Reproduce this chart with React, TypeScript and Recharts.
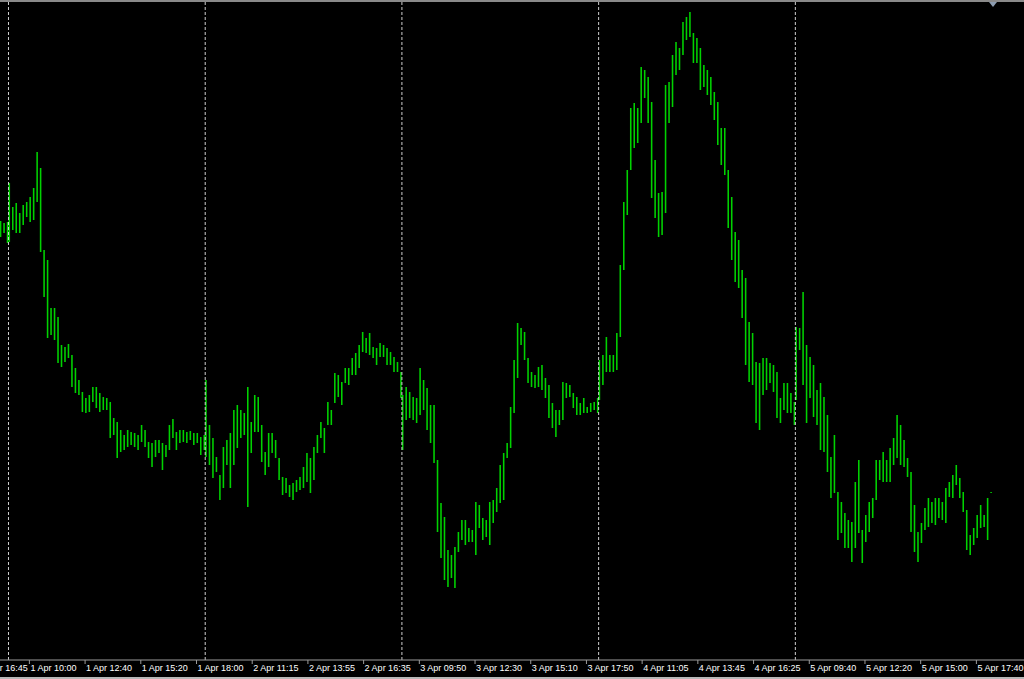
import React from 'react';
import { BarChart, Bar, XAxis, YAxis, ReferenceLine } from 'recharts';

// 5 minute bars per session, 09:00 .. 18:20
const BARS_PER_DAY = 113;

// 10 minute high / low (price points)
const mar31High = [439, 437, 438];
const mar31Low = [423, 427, 417];

const apr1High = [477, 453, 457, 447, 455, 458, 463, 472, 508, 492, 410, 400, 352, 352, 343, 315, 313, 316, 305, 292, 280, 268, 262, 265, 273, 273, 267, 263, 262, 258, 242, 238, 230, 225, 230, 228, 227, 225, 235, 230, 218, 217, 220, 220, 217, 215, 235, 241, 228, 230, 230, 228, 229, 227, 227, 223, 225];
const apr1Low = [418, 430, 427, 427, 435, 443, 438, 440, 458, 408, 363, 322, 325, 320, 297, 293, 298, 302, 273, 267, 265, 248, 247, 248, 258, 252, 248, 250, 250, 222, 225, 202, 208, 210, 213, 215, 213, 210, 218, 213, 202, 193, 203, 207, 190, 203, 210, 222, 210, 217, 218, 217, 220, 215, 217, 205, 210];

const apr2High = [280, 235, 222, 203, 185, 213, 220, 227, 250, 255, 250, 247, 273, 238, 265, 263, 235, 208, 227, 227, 220, 202, 183, 182, 175, 177, 180, 183, 193, 207, 202, 213, 225, 238, 232, 258, 250, 287, 285, 278, 292, 292, 302, 307, 315, 328, 322, 327, 313, 312, 317, 315, 312, 308, 303, 298, 288];
const apr2Low = [203, 195, 182, 188, 160, 172, 195, 172, 195, 212, 222, 225, 153, 207, 228, 228, 198, 185, 193, 207, 202, 180, 165, 167, 163, 160, 168, 170, 172, 178, 167, 180, 207, 222, 207, 235, 235, 257, 263, 255, 277, 275, 285, 285, 292, 308, 307, 305, 302, 295, 303, 303, 295, 295, 288, 288, 262];

const apr3High = [265, 273, 268, 263, 262, 292, 280, 272, 255, 255, 200, 157, 143, 110, 105, 113, 128, 140, 140, 132, 130, 158, 155, 142, 140, 158, 160, 172, 195, 207, 217, 253, 300, 337, 332, 328, 302, 288, 285, 293, 295, 282, 275, 257, 250, 250, 278, 277, 275, 267, 263, 257, 262, 253, 257, 258, 262];
const apr3Low = [210, 240, 242, 240, 237, 245, 250, 230, 217, 197, 128, 102, 80, 73, 82, 72, 108, 120, 115, 118, 118, 105, 132, 120, 123, 115, 137, 148, 157, 160, 202, 212, 247, 282, 315, 300, 277, 273, 272, 273, 270, 262, 242, 232, 223, 235, 240, 262, 263, 252, 245, 245, 247, 247, 248, 250, 247];

const apr4High = [300, 305, 323, 305, 305, 327, 395, 458, 490, 552, 557, 552, 593, 590, 583, 558, 500, 467, 468, 575, 578, 605, 618, 612, 638, 643, 648, 627, 622, 612, 595, 590, 583, 568, 558, 532, 532, 490, 463, 428, 420, 390, 382, 338, 327, 298, 297, 302, 302, 297, 295, 288, 262, 277, 277, 267, 258];
const apr4Low = [260, 275, 288, 288, 288, 290, 323, 390, 445, 490, 512, 517, 537, 562, 537, 462, 442, 423, 425, 447, 537, 553, 585, 590, 605, 620, 623, 597, 597, 570, 573, 565, 555, 540, 515, 495, 485, 432, 400, 378, 372, 342, 295, 278, 275, 237, 230, 265, 270, 277, 268, 242, 237, 250, 247, 247, 235];

const apr5High = [333, 332, 368, 315, 303, 295, 270, 277, 263, 245, 203, 225, 168, 158, 147, 140, 138, 178, 200, 130, 145, 158, 162, 200, 200, 208, 200, 212, 222, 245, 235, 220, 202, 188, 155, 128, 137, 152, 162, 158, 162, 162, 158, 172, 178, 185, 195, 182, 168, 150, 125, 132, 145, 155, 145, 162, 168];
const apr5Low = [260, 310, 275, 237, 262, 243, 235, 210, 208, 188, 162, 167, 120, 127, 112, 112, 98, 112, 127, 97, 118, 128, 142, 160, 180, 178, 178, 178, 195, 202, 195, 193, 183, 128, 108, 98, 117, 130, 133, 137, 135, 142, 140, 137, 163, 162, 175, 162, 148, 110, 105, 115, 122, 132, 133, 120, 167];

const tickLabels = [
  '31 Mar 16:45', '1 Apr 10:00', '1 Apr 12:40', '1 Apr 15:20', '1 Apr 18:00',
  '2 Apr 11:15', '2 Apr 13:55', '2 Apr 16:35', '3 Apr 09:50', '3 Apr 12:30',
  '3 Apr 15:10', '3 Apr 17:50', '4 Apr 11:05', '4 Apr 13:45', '4 Apr 16:25',
  '5 Apr 09:40', '5 Apr 12:20', '5 Apr 15:00', '5 Apr 17:40',
];

// day index relative to 1 Apr, first 10-min slot shown
const sessions = [
  { day: -1, first: 54, high: mar31High, low: mar31Low },
  { day: 0, first: 0, high: apr1High, low: apr1Low },
  { day: 1, first: 0, high: apr2High, low: apr2Low },
  { day: 2, first: 0, high: apr3High, low: apr3Low },
  { day: 3, first: 0, high: apr4High, low: apr4Low },
  { day: 4, first: 0, high: apr5High, low: apr5Low },
];

const bars = sessions.flatMap(s =>
  s.high.map((h, i) => ({ t: s.day * BARS_PER_DAY + (s.first + i) * 2 + 0.5, hl: [s.low[i], h] }))
);

function labelToIndex(label: string) {
  const [d, mon, hm] = label.split(' ');
  const day = mon === 'Mar' ? Number(d) - 32 : Number(d) - 1;
  const [h, m] = hm.split(':').map(Number);
  return day * BARS_PER_DAY + (h * 60 + m - 540) / 5;
}

const tickIndex = tickLabels.map(labelToIndex);
const labelByIndex = new Map(tickIndex.map((t, i) => [t, tickLabels[i]]));
const dayStarts = [0, 1, 2, 3, 4].map(d => d * BARS_PER_DAY);

const DateTick = (props: any) => {
  const { x, y, payload } = props;
  return (
    <text x={x + 1} y={y + 5} fill="#ffffff" fontSize={9} fontFamily="'Liberation Sans', Arial, sans-serif" textAnchor="start">
      {labelByIndex.get(payload.value)}
    </text>
  );
};

export default function App() {
  return (
    <div style={{ position: 'relative', width: 1024, height: 679, background: '#000', overflow: 'hidden' }}>
      <style>{'body{margin:0;background:#000}'}</style>
      <BarChart width={1024} height={677} data={bars} margin={{ top: 0, right: 0, bottom: 0, left: 0 }}>
        <XAxis
          type="number"
          dataKey="t"
          domain={[-4.88, 583.35]}
          allowDataOverflow
          ticks={tickIndex}
          interval={0}
          height={17}
          tickSize={4}
          axisLine={{ stroke: '#9c9c9c' }}
          tickLine={{ stroke: '#9c9c9c' }}
          tick={(p: any) => <DateTick {...p} />}
        />
        <YAxis hide domain={[0, 660]} allowDataOverflow />
        <ReferenceLine y={659} stroke="#8a8a8a" strokeWidth={2} />
        {dayStarts.map(d => (
          <ReferenceLine key={d} x={d} stroke="#cfcfcf" strokeDasharray="3 2" />
        ))}
        <Bar dataKey="hl" fill="#00d200" barSize={2.6} isAnimationActive={false} />
      </BarChart>
      <div style={{ position: 'absolute', left: 0, top: 677, width: 1024, height: 2, background: '#b8b8b8' }} />
      <div
        style={{
          position: 'absolute', left: 989, top: 2, width: 0, height: 0,
          borderLeft: '4px solid transparent', borderRight: '4px solid transparent', borderTop: '5px solid #8c9cb0',
        }}
      />
    </div>
  );
}
